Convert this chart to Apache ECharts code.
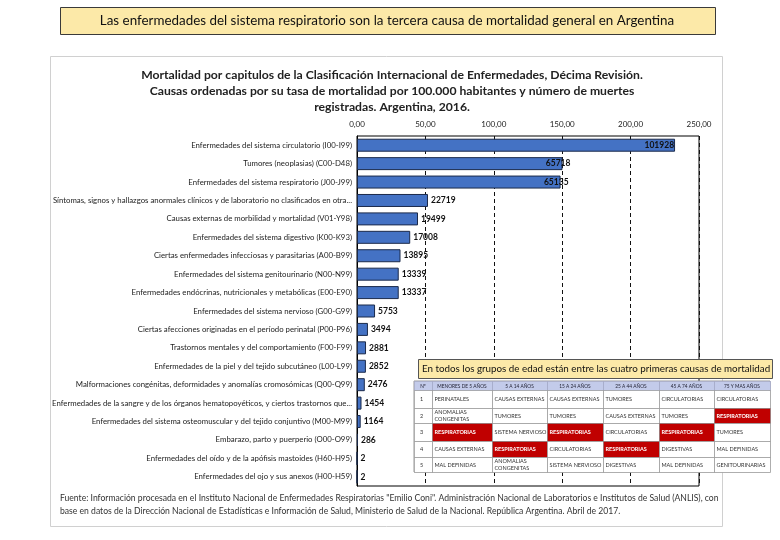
<!DOCTYPE html>
<html><head><meta charset="utf-8">
<script src="https://cdn.jsdelivr.net/npm/echarts@6/dist/echarts.min.js"></script>
<style>html,body{margin:0;padding:0;background:#fff}#c{width:780px;height:540px}</style>
</head><body><div id="c"></div>
<script>
// ---- data ----
const categories = [
  "Enfermedades del sistema circulatorio (I00-I99)",
  "Tumores (neoplasias) (C00-D48)",
  "Enfermedades del sistema respiratorio (J00-J99)",
  "Síntomas, signos y hallazgos anormales clínicos y de laboratorio no clasificados en otra...",
  "Causas externas de morbilidad y mortalidad (V01-Y98)",
  "Enfermedades del sistema digestivo (K00-K93)",
  "Ciertas enfermedades infecciosas y parasitarias (A00-B99)",
  "Enfermedades del sistema genitourinario (N00-N99)",
  "Enfermedades endócrinas, nutricionales y metabólicas (E00-E90)",
  "Enfermedades del sistema nervioso (G00-G99)",
  "Ciertas afecciones originadas en el período perinatal (P00-P96)",
  "Trastornos mentales y del comportamiento (F00-F99)",
  "Enfermedades de la piel y del tejido subcutáneo (L00-L99)",
  "Malformaciones congénitas, deformidades y anomalías cromosómicas (Q00-Q99)",
  "Enfermedades de la sangre y de los órganos hematopoyéticos, y ciertos trastornos que...",
  "Enfermedades del sistema osteomuscular y del tejido conjuntivo (M00-M99)",
  "Embarazo, parto y puerperio (O00-O99)",
  "Enfermedades del oído y de la apófisis mastoides (H60-H95)",
  "Enfermedades del ojo y sus anexos (H00-H59)"
];
const rates = [232.5, 150.2, 148.8, 51.9, 44.6, 38.9, 31.8, 30.5, 30.5, 13.2, 8.0, 6.6, 6.5, 5.7, 3.3, 2.7, 0.66, 0.01, 0.01];
const deaths = [101928, 65718, 65135, 22719, 19499, 17008, 13895, 13339, 13337, 5753, 3494, 2881, 2852, 2476, 1454, 1164, 286, 2, 2];
const xTicks = {min: 0, max: 250, interval: 50};

const mainTitle = "Las enfermedades del sistema respiratorio son la tercera causa de mortalidad general en Argentina";
const chartTitle = "Mortalidad por capitulos de la Clasificación Internacional de Enfermedades, Décima Revisión.\nCausas ordenadas por su tasa de mortalidad por 100.000 habitantes y número de muertes\nregistradas. Argentina, 2016.";
const bannerText = "En todos los grupos de edad están entre las cuatro primeras causas de mortalidad";
const tableHeader = ["Nº", "MENORES DE 5 AÑOS", "5 A 14 AÑOS", "15 A 24 AÑOS", "25 A 44 AÑOS", "45 A 74 AÑOS", "75 Y MAS AÑOS"];
const tableRows = [
  ["1", "PERINATALES", "CAUSAS EXTERNAS", "CAUSAS EXTERNAS", "TUMORES", "CIRCULATORIAS", "CIRCULATORIAS"],
  ["2", "ANOMALIAS\nCONGENITAS", "TUMORES", "TUMORES", "CAUSAS EXTERNAS", "TUMORES", "RESPIRATORIAS"],
  ["3", "RESPIRATORIAS", "SISTEMA NERVIOSO", "RESPIRATORIAS", "CIRCULATORIAS", "RESPIRATORIAS", "TUMORES"],
  ["4", "CAUSAS EXTERNAS", "RESPIRATORIAS", "CIRCULATORIAS", "RESPIRATORIAS", "DIGESTIVAS", "MAL DEFINIDAS"],
  ["5", "MAL DEFINIDAS", "ANOMALIAS\nCONGENITAS", "SISTEMA NERVIOSO", "DIGESTIVAS", "MAL DEFINIDAS", "GENITOURINARIAS"]
];
const highlightWord = "RESPIRATORIAS";
const footnote = "Fuente: Información procesada en el Instituto Nacional de Enfermedades Respiratorias \"Emilio Coni\". Administración Nacional de Laboratorios e Institutos de Salud (ANLIS), con\nbase en datos de la Dirección Nacional de Estadísticas e Información de Salud, Ministerio de Salud de la Nacional. República Argentina. Abril de 2017.";

// ---- layout (styles only) ----
const FONT = "Lato, 'Open Sans', sans-serif";
const colX = [414, 432, 492, 547, 603, 659, 714, 770];
const rowY = [381, 390, 408, 423, 441, 457, 472];

const graphics = [];
graphics.push({type:'rect', shape:{x:50.5,y:56.5,width:672,height:470}, style:{fill:'none', stroke:'#d0d0d0', lineWidth:1}, z:0, silent:true});
graphics.push({type:'rect', shape:{x:60.5,y:7.5,width:655,height:27}, style:{fill:'#fce9a8', stroke:'#3a3a3a', lineWidth:1}, z:10});
graphics.push({type:'text', x:387, y:21, style:{text:mainTitle, font:"13.4px "+FONT, fill:'#111', textAlign:'center', textVerticalAlign:'middle'}, z:11});
graphics.push({type:'rect', shape:{x:418.5,y:359.5,width:354,height:19}, style:{fill:'#fce9a8', stroke:'#555', lineWidth:1}, z:20});
graphics.push({type:'text', x:422, y:369, style:{text:bannerText, font:"9.8px "+FONT, fill:'#111', textAlign:'left', textVerticalAlign:'middle'}, z:21});
graphics.push({type:'rect', shape:{x:colX[0], y:rowY[0], width:colX[7]-colX[0], height:rowY[6]-rowY[0]}, style:{fill:'#fff', stroke:'#999', lineWidth:1}, z:20});
for (let c = 0; c < tableHeader.length; c++) {
  graphics.push({type:'rect', shape:{x:colX[c]+0.5, y:rowY[0]+0.5, width:colX[c+1]-colX[c], height:rowY[1]-rowY[0]}, style:{fill:'#c3cbea', stroke:'#9aa0c0', lineWidth:0.6}, z:21});
  graphics.push({type:'text', x:(colX[c]+colX[c+1])/2, y:(rowY[0]+rowY[1])/2+0.5, style:{text:tableHeader[c], font:"4.8px "+FONT, fill:'#223', textAlign:'center', textVerticalAlign:'middle'}, z:22});
}
for (let r = 0; r < tableRows.length; r++) {
  for (let c = 0; c < tableRows[r].length; c++) {
    const txt = tableRows[r][c];
    const hi = txt === highlightWord;
    const x0 = colX[c], x1 = colX[c+1], y0 = rowY[r+1], y1 = rowY[r+2];
    graphics.push({type:'rect', shape:{x:x0+0.5, y:y0+0.5, width:x1-x0, height:y1-y0}, style:{fill: hi ? '#c00000' : '#fff', stroke:'#888', lineWidth:0.6}, z:21});
    graphics.push({type:'text', x: c===0 ? (x0+x1)/2 - 3 : x0+2.5, y:(y0+y1)/2+0.5, style:{text:txt, font:(hi?"bold ":"")+"5.5px "+FONT, lineHeight:7, fill: hi ? '#fff' : '#333', textAlign: 'left', textVerticalAlign:'middle'}, z:22});
  }
}
graphics.push({type:'text', x:60, y:492, style:{text:footnote, font:"8.6px "+FONT, lineHeight:13, fill:'#333', textAlign:'left', textVerticalAlign:'top'}, z:5});

const barData = rates.map((v, i) => {
  const item = {value: v};
  if (i === 0) item.label = {position:'insideRight', distance:1};
  else if (i < 3) item.label = {position:'insideRight', distance:1, offset:[9,0]};
  return item;
});

const chart = echarts.init(document.getElementById('c'));
chart.setOption({
  backgroundColor:'#fff',
  animation:false,
  title:{
    text: chartTitle, left: 387, top: 62, textAlign:'center',
    textStyle:{fontFamily:FONT, fontSize:12.2, fontWeight:'bold', color:'#222', lineHeight:16}
  },
  grid:{left:357, right:81, top:136, bottom:54, show:true, borderColor:'#000', borderWidth:1, backgroundColor:'transparent'},
  xAxis:{
    type:'value', position:'top', min:xTicks.min, max:xTicks.max, interval:xTicks.interval,
    axisLine:{show:false}, axisTick:{show:false},
    axisLabel:{fontFamily:FONT, fontSize:8, color:'#222', margin:8, formatter:v => v.toFixed(2).replace('.', ',')},
    splitLine:{show:true, lineStyle:{color:'#111', type:[4,3], width:1}}
  },
  yAxis:{
    type:'category', inverse:true, data:categories,
    axisLine:{show:true, lineStyle:{color:'#000', width:1}}, axisTick:{show:false},
    axisLabel:{fontFamily:FONT, fontSize:7.8, color:'#222', margin:5}
  },
  series:[{
    type:'bar', data:barData, barWidth:13,
    itemStyle:{color:'#4472c4', borderColor:'#1b2a4a', borderWidth:1},
    label:{show:true, position:'right', distance:3, fontFamily:FONT, fontSize:8.5, fontWeight:'bold', color:'#111',
      formatter:p => String(deaths[p.dataIndex])}
  }],
  graphic: graphics
});
</script></body></html>
